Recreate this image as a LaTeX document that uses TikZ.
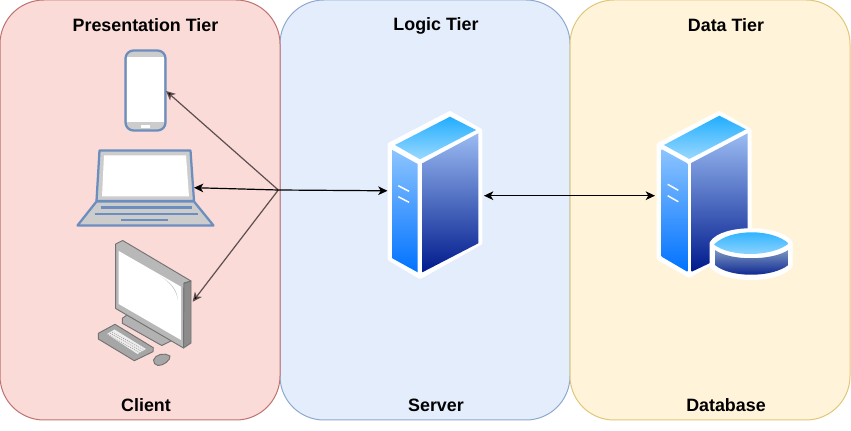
\documentclass[tikz,border=0pt]{standalone}
\usepackage{fontspec}
\setmainfont{Liberation Sans}
\usetikzlibrary{arrows.meta}
\definecolor{redfill}{HTML}{FADBD8}
\definecolor{redline}{HTML}{C0736F}
\definecolor{bluefill}{HTML}{E4EDFC}
\definecolor{blueline}{HTML}{8FA9D0}
\definecolor{yelfill}{HTML}{FFF3DA}
\definecolor{yelline}{HTML}{E0C878}
\definecolor{devblue}{HTML}{6C8EBF}
\definecolor{devgray}{HTML}{CCCCCC}
\definecolor{skyA}{HTML}{22AEFF}
\definecolor{skyB}{HTML}{99D8FF}
\definecolor{sideA}{HTML}{8CC4FF}
\definecolor{sideB}{HTML}{0072FF}
\definecolor{frontA}{HTML}{9ABBF2}
\definecolor{frontB}{HTML}{001A8C}
\definecolor{diagline}{HTML}{5B4F4F}
\tikzset{
  panel/.style={draw=#1,line width=0.75pt,rounded corners=33pt},
  title/.style={font=\fontsize{13.4}{16}\selectfont\bfseries,text=black,inner sep=0pt},
  link/.style={line width=0.9pt,draw=black,{Stealth[length=7pt,width=6.5pt,inset=2pt]}-{Stealth[length=7pt,width=6.5pt,inset=2pt]}},
  oneway/.style={line width=0.9pt,draw=#1,-{Stealth[length=7pt,width=6.5pt,inset=2pt,fill=black]}},
  whiteedge/.style={draw=white,fill=white,line width=3pt,line join=round},
  ledge/.style={draw=devblue,line width=1.7pt,line join=round},
  monframe/.style={draw=black!55,line width=0.7pt,line join=round},
}
\begin{document}
\begin{tikzpicture}[x=0.75pt,y=-0.75pt]
\useasboundingbox (0,0) rectangle (851,431);
\fill[white] (0,0) rectangle (851,431);
% panels
\path[panel=blueline,fill=bluefill] (280,0) rectangle (570,420);
\path[panel=redline,fill=redfill] (0,0) rectangle (280,420);
\path[panel=yelline,fill=yelfill] (570,0) rectangle (850,420);
% titles
\node[title] (t1) at (145.5,25.5) {Presentation Tier};
\node[title] (t2) at (436,25.5) {Logic Tier};
\node[title] (t3) at (726,25.5) {Data Tier};
\node[title] (b1) at (146,405) {Client};
\node[title] (b2) at (436,405) {Server};
\node[title] (b3) at (726,405) {Database};
% phone
\path[ledge,fill=devgray,rounded corners=6pt] (125.5,50.5) rectangle (165.5,130.5);
\fill[white] (127,57.5) rectangle (164,122.5);
\fill[white] (141,125.5) rectangle (150,128);
% laptop
\path[ledge,fill=devgray] (99.5,150.5) -- (190.5,150.5) -- (194,201) -- (96.5,201) -- cycle;
\fill[white] (104,155.5) -- (186,155.5) -- (189,196.5) -- (102,196.5) -- cycle;
\path[ledge,fill=devgray] (96.5,201.5) -- (194,201.5) -- (213.5,225.5) -- (77.5,225.5) -- cycle;
\draw[devblue,line width=1.8pt] (100.5,207.7) -- (191.5,207.7) (94.5,214) -- (197.5,214) (121,220) -- (167.5,220);
% desktop: stand, monitor
\path[monframe,fill=black!30] (122.3,318.3) -- (127,315) -- (172,340.5) -- (161.7,345.5) -- (122.3,323.3) -- cycle;
\path[monframe,fill=black!28] (115.7,244) -- (122.7,240.5) -- (191,281) -- (184,283) -- (183.5,348) -- (115.7,308.5) -- cycle;
\path[monframe,fill=black!45] (184,283.5) -- (191,281) -- (191,343) -- (183.5,348) -- cycle;
\fill[white] (118.7,251) -- (181,286.7) -- (181,340) -- (118.7,304) -- cycle;
\fill[black!22] (160,276) .. controls (172,283) and (177,290) .. (178,300) .. controls (176,290) and (170,282) .. (160,276) -- cycle;
% keyboard
\path[monframe,fill=black!35] (98.3,333.3) -- (115,324.3) -- (153.3,347.7) -- (153,351.7) -- (134.3,360.7) -- (98.3,339) -- cycle;
\fill[white,opacity=.8] (107,334) -- (114.5,329.5) -- (146,349) -- (137.5,354) -- cycle;
\draw[black!50,line width=.3pt,dash pattern=on .8pt off .8pt] (108,334.5) -- (140,353) (110,333) -- (142,351.5) (112,332) -- (144,350);
% mouse
\path[monframe,fill=black!35] (153.5,360) .. controls (155,354.5) and (165,352) .. (170,356) .. controls (171,360) and (163,366) .. (158,365.5) .. controls (155,365) and (153.5,363) .. (153.5,360) -- cycle;
% server
\path[whiteedge] (389.7,144.5) -- (450,113) -- (480.3,130.5) -- (480.3,243) -- (420,277) -- (389.7,259) -- cycle;
\shade[top color=skyA,bottom color=skyB] (395,145) -- (450,116.7) -- (476,130) -- (420,159.3) -- cycle;
\shade[top color=sideA,bottom color=sideB] (392.3,150) -- (417.7,164) -- (417.7,272.3) -- (392.3,258.3) -- cycle;
\shade[top color=frontA,bottom color=frontB] (422.3,163.3) -- (478.3,133.3) -- (478.3,243.3) -- (422.3,272.3) -- cycle;
\draw[white,line width=1.1pt] (398.3,185.7) -- (409,191.3) (398.3,196.7) -- (409,202.3);
% database server
\path[whiteedge] (658.7,144.5) -- (719.3,113) -- (749.7,130.3) -- (749.7,240) -- (689.3,275.7) -- (658.7,258.5) -- cycle;
\shade[top color=skyA,bottom color=skyB] (664,145) -- (719.3,115.7) -- (746,129.3) -- (689.3,159) -- cycle;
\shade[top color=sideA,bottom color=sideB] (661.7,149.3) -- (687.3,163.3) -- (687.3,271.7) -- (661.7,256.7) -- cycle;
\shade[top color=frontA,bottom color=frontB] (691.7,162.7) -- (747.7,133.3) -- (747.7,232) -- (710,250) -- (710,263) -- (691.7,271.7) -- cycle;
\draw[white,line width=1.1pt] (667.7,184.3) -- (678.3,190.3) (667.7,195.7) -- (678.3,201.7);
% database disk
\path[whiteedge] (711.7,243) .. controls (722,226) and (780,226) .. (790.7,243) -- (790.7,266) .. controls (778,282) and (724,282) .. (711.7,266) -- cycle;
\shade[top color=frontA!80!black,bottom color=frontB] (715,250) .. controls (730,261) and (772,261) .. (788.3,250) -- (788.3,265) .. controls (772,278) and (730,278) .. (715,265) -- cycle;
\shade[top color=skyA,bottom color=skyB] (714,244.5) .. controls (730,228.4) and (772,228.4) .. (788.7,243.5) .. controls (772,257.3) and (730,257.3) .. (714,244.5) -- cycle;
% connection points
\coordinate (hub) at (278.3,190);
\coordinate (phoneR) at (166,91);
\coordinate (laptopR) at (194,187.7);
\coordinate (deskR) at (192.7,301.7);
\coordinate (srvL) at (387.5,190.8);
\coordinate (srvR) at (484,195.7);
\coordinate (dbL) at (655,195.7);
\draw[oneway=diagline] (hub) -- (phoneR);
\draw[oneway=diagline] (hub) -- (deskR);
\draw[oneway=black] (hub) -- (laptopR);
\draw[oneway=black] (hub) -- (srvL);
\draw[link] (srvR) -- (dbL);
\end{tikzpicture}
\end{document}
